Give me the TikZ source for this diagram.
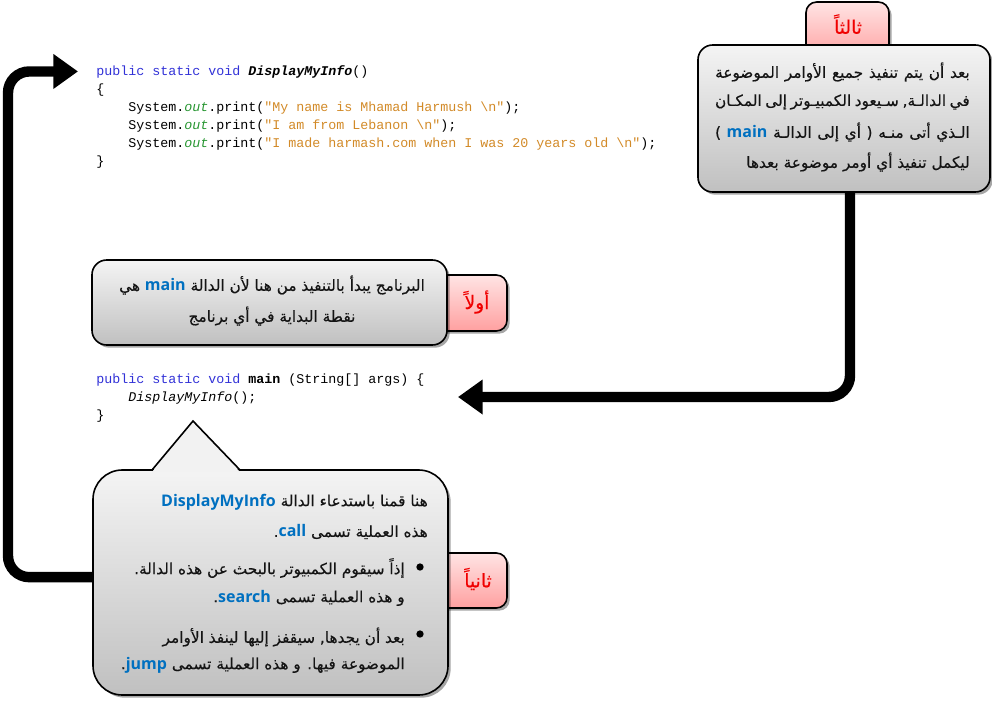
\documentclass[tikz,border=0pt]{standalone}
\usepackage{fontspec}
\usetikzlibrary{arrows.meta,shadows}
\TeXXeTstate=1
\newfontfamily\arfont[Script=Arabic, FakeBold=0.35]{DejaVu Sans}
\newfontfamily\codefont{Liberation Mono}
\newfontfamily\kwfont{Open Sans}

\definecolor{linkblue}{RGB}{0,112,192}
\definecolor{jkey}{RGB}{50,50,215}
\definecolor{jstr}{RGB}{210,138,40}
\definecolor{jfield}{RGB}{40,150,50}
\definecolor{boxtop}{RGB}{244,244,244}
\definecolor{boxbot}{RGB}{192,192,192}
\definecolor{tabtop}{RGB}{255,228,228}
\definecolor{tabbot}{RGB}{255,160,160}
\definecolor{tabred}{RGB}{240,0,0}

% highlighted Latin term inside a right-to-left line
\newcommand\term[1]{\beginL{\kwfont\bfseries\fontsize{12}{13}\selectfont\color{linkblue}#1}\endL}
% Java syntax colouring
\newcommand\jk[1]{\textcolor{jkey}{#1}}
\newcommand\js[1]{\textcolor{jstr}{#1}}
\newcommand\jf[1]{\textcolor{jfield}{\itshape #1}}

\tikzset{
  codeline/.style={anchor=base west, inner sep=0pt, font=\codefont\fontsize{10}{12}\selectfont},
  artext/.style={inner sep=0pt, text=black!92, font=\arfont\fontsize{11.5}{13}\selectfont},
  notebox/.style={draw=black, line width=1.2pt, top color=boxtop, bottom color=boxbot,
    drop shadow={shadow xshift=2pt, shadow yshift=-2pt, fill=black, opacity=0.35}},
  tabbox/.style={draw=black, line width=1.2pt, rounded corners=8pt, top color=tabtop, bottom color=tabbot,
    drop shadow={shadow xshift=2pt, shadow yshift=-2pt, fill=black, opacity=0.35}},
  tablabel/.style={inner sep=0pt, text=tabred, font=\arfont\fontsize{14}{15}\selectfont},
  bigarrow/.style={line width=7.8pt, rounded corners=16pt, -{Triangle[length=18.5pt,width=25pt]}},
  bulletdot/.style={circle, fill=black, inner sep=0pt, minimum size=5.5pt}
}

\begin{document}
\begin{tikzpicture}[x=0.75pt, y=-0.75pt]
\useasboundingbox (0,0) rectangle (992,703);

% coloured tabs, partly hidden behind the note boxes
\node[tabbox, minimum width=62.25pt, minimum height=43.5pt] (tab3) at (847.5,31) {};
\node[tabbox, minimum width=65.25pt, minimum height=42pt] (tab1) at (463.5,303) {};
\node[tabbox, minimum width=65.25pt, minimum height=41.25pt] (tab2) at (463.5,580.5) {};

% note boxes
\node[notebox, rounded corners=11pt, minimum width=219pt, minimum height=110.25pt] (third) at (844,118.5) {};
\node[notebox, rounded corners=11pt, minimum width=266.25pt, minimum height=63.75pt] (first) at (269.5,302.5) {};
\node[notebox, rounded corners=22pt, minimum width=266.25pt, minimum height=168.75pt] (second) at (270.5,582.5) {};

% speech pointer on top of the lower box
\fill[boxtop!96!boxbot] (152,472) -- (193,421) -- (240,472) -- cycle;
\draw[line width=1.2pt, line join=miter] (152,470) -- (193,421) -- (240,470);

% tab labels
\node[tablabel] (lab3) at (848,24) {\beginR ثالثاً\endR};
\node[tablabel] (lab1) at (477,302) {\beginR أولاً\endR};
\node[tablabel] (lab2) at (478,579) {\beginR ثانياً\endR};

% the called method
\node[codeline] (info1) at (96,75) {\jk{public static void} {\bfseries\itshape DisplayMyInfo}()};
\node[codeline] (info2) at (96,93) {\{};
\node[codeline] (info3) at (128,111) {System.\jf{out}.print(\js{"My name is Mhamad Harmush \textbackslash n"});};
\node[codeline] (info4) at (128,129) {System.\jf{out}.print(\js{"I am from Lebanon \textbackslash n"});};
\node[codeline] (info5) at (128,147) {System.\jf{out}.print(\js{"I made harmash.com when I was 20 years old \textbackslash n"});};
\node[codeline] (info6) at (96,165) {\}};

% the main method
\node[codeline] (main1) at (96,383) {\jk{public static void} \textbf{main} (String[] args) \{};
\node[codeline] (main2) at (128,401) {\textit{DisplayMyInfo}();};
\node[codeline] (main3) at (96,419) {\}};

% third note (first three lines justified)
\node[artext, anchor=east] (t1) at (970,72) {\hbox to 191pt{\beginR بعد أن يتم تنفيذ جميع الأوامر الموضوعة\endR}};
\node[artext, anchor=east] (t2) at (970,102) {\hbox to 191pt{\beginR في الدالـة, سـيعود الكمبيـوتر إلى المكـان\endR}};
\node[artext, anchor=east] (t3) at (970,132) {\hbox to 191pt{\beginR الـذي أتى منـه ( أي إلى الدالـة \term{main} )\endR}};
\node[artext, anchor=east] (t4) at (970,162) {\beginR ليكمل تنفيذ أي أومر موضوعة بعدها\endR};

% first note
\node[artext] (m1) at (272,285) {\beginR البرنامج يبدأ بالتنفيذ من هنا لأن الدالة \term{main} هي\endR};
\node[artext] (m2) at (272,316) {\beginR نقطة البداية في أي برنامج\endR};

% second note
\node[artext, anchor=east] (b1) at (428,502) {\beginR هنا قمنا باستدعاء الدالة \term{DisplayMyInfo}\endR};
\node[artext, anchor=east] (b2) at (428,532) {\beginR هذه العملية تسمى \term{call}.\endR};
\node[bulletdot] (dot1) at (420,567) {};
\node[artext, anchor=east] (b3) at (405,568) {\beginR إذاً سيقوم الكمبيوتر بالبحث عن هذه الدالة.\endR};
\node[artext, anchor=east] (b4) at (405,598) {\beginR و هذه العملية تسمى \term{search}.\endR};
\node[bulletdot] (dot2) at (420,634) {};
\node[artext, anchor=east] (b5) at (405,637) {\beginR بعد أن يجدها, سيقفز إليها لينفذ الأوامر\endR};
\node[artext, anchor=east] (b6) at (405,665) {\beginR الموضوعة فيها. و هذه العملية تسمى \term{jump}.\endR};

% flow of control
\coordinate (rail) at (8,0);
\coordinate (ret) at (458,397);
\draw[bigarrow] ([xshift=4.5pt]third.south) |- (ret);
\draw[bigarrow, shorten >=13.5pt] ([yshift=4pt]second.west) -| (rail |- info1.west) -- (info1.west);
\end{tikzpicture}
\end{document}
